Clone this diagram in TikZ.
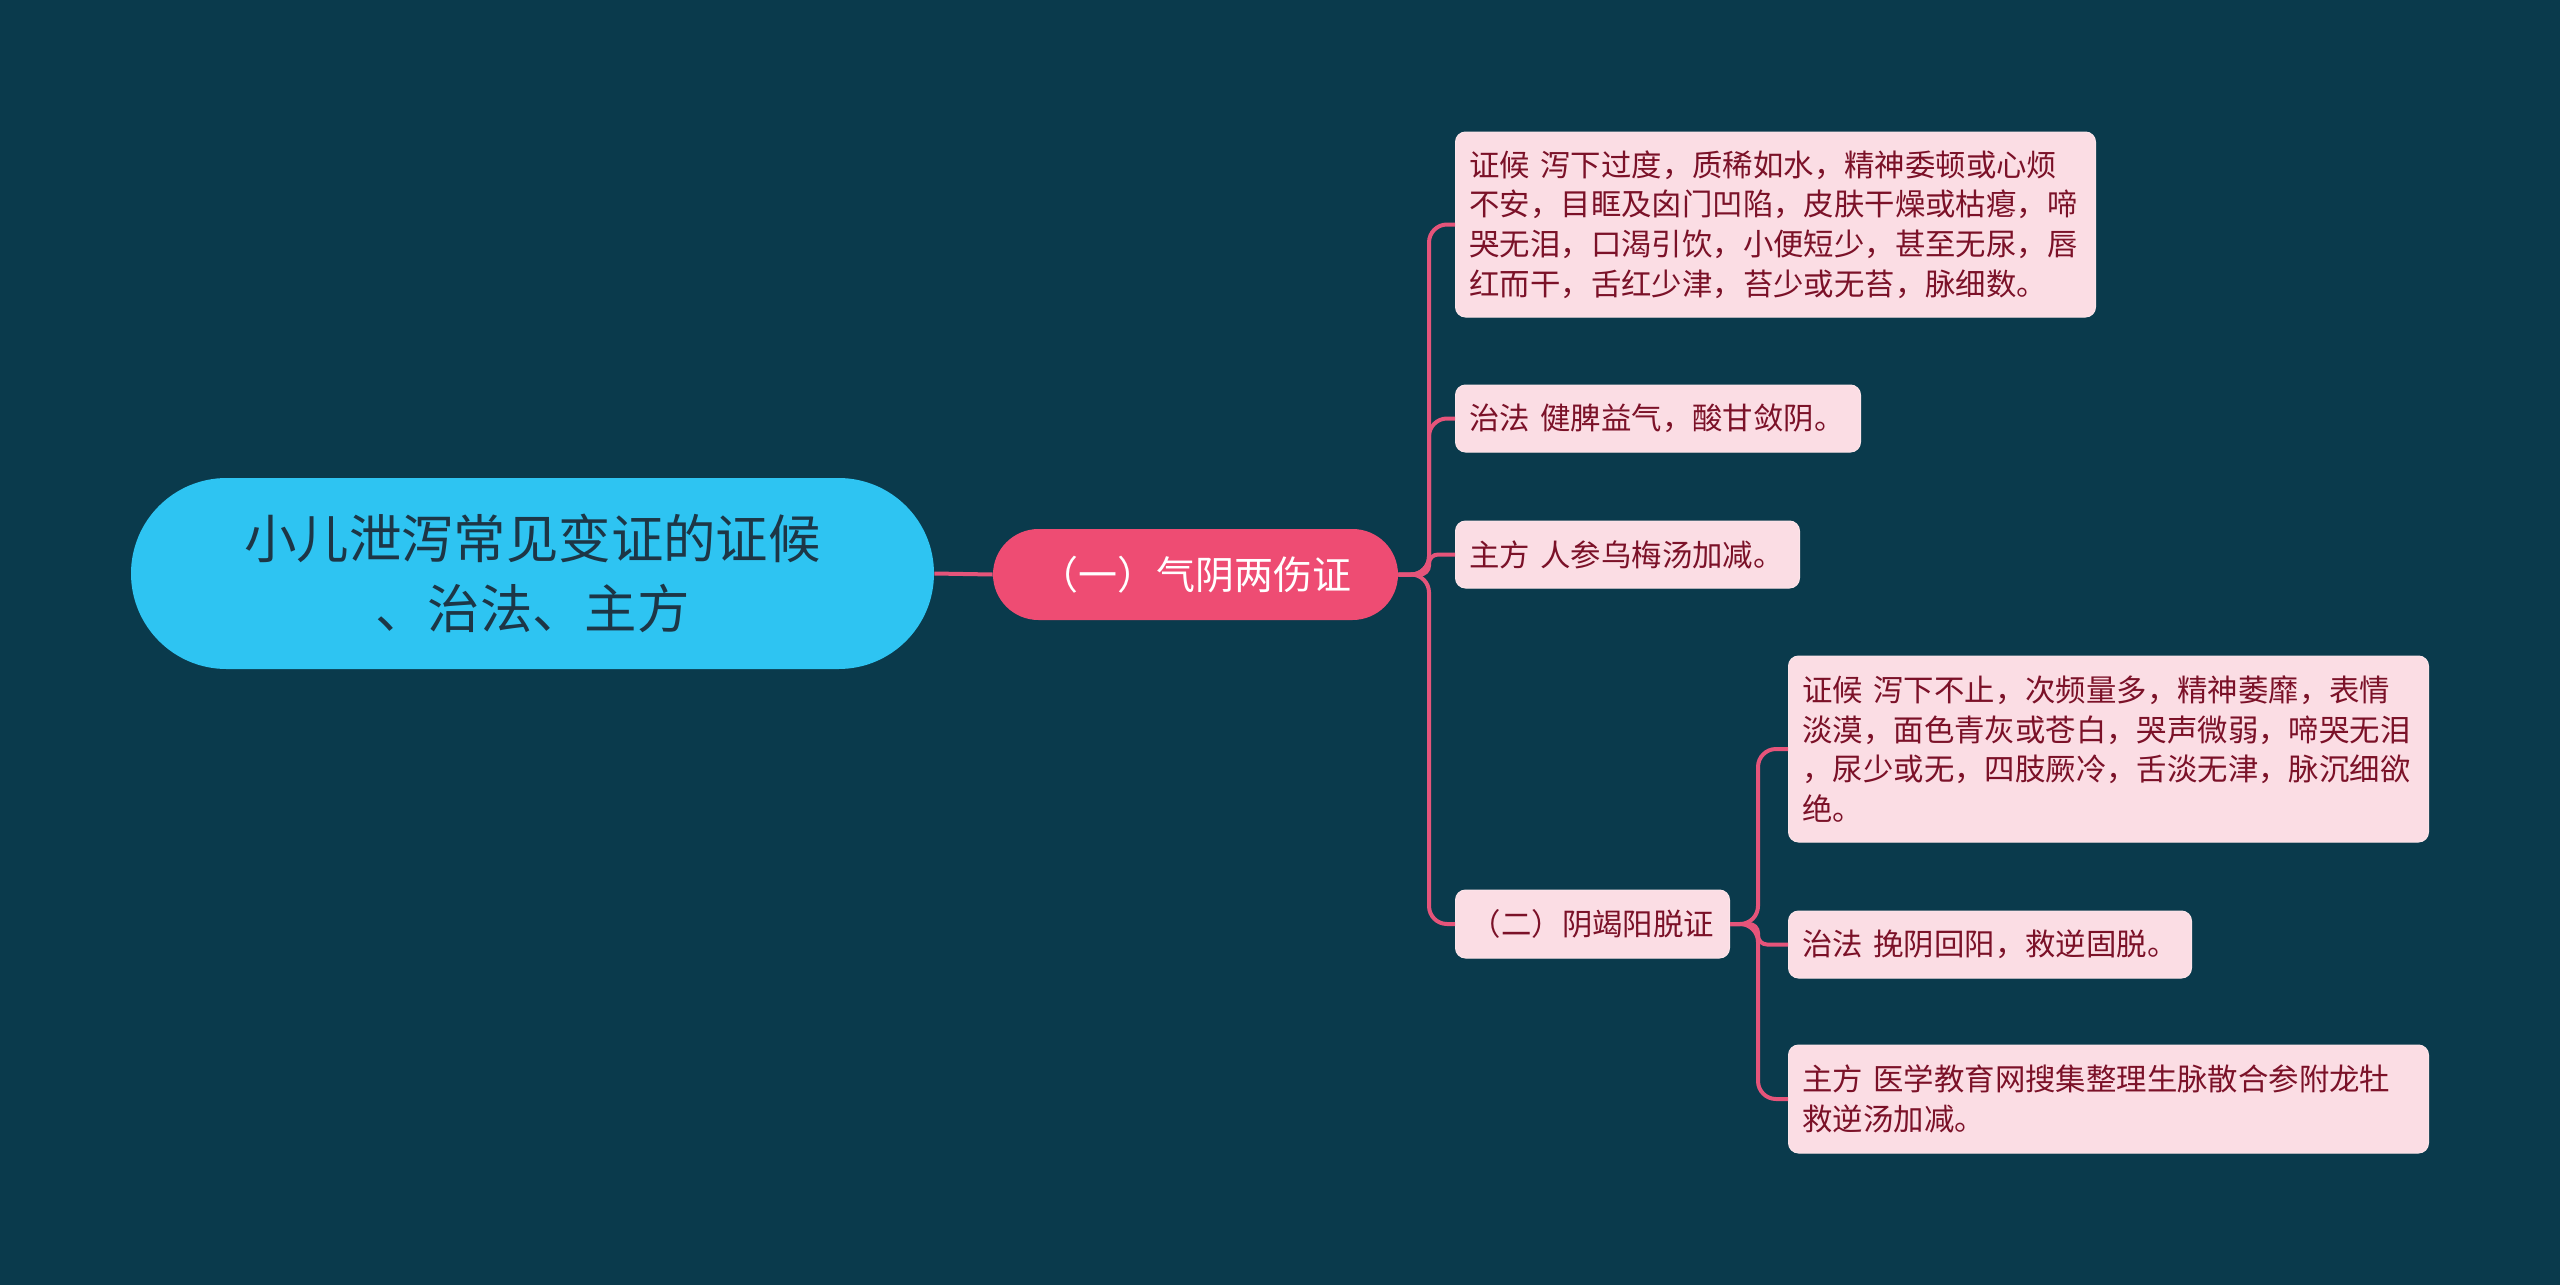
\documentclass[tikz,border=0pt]{standalone}
\usepackage{fontspec}
\setmainfont{Noto Sans CJK SC}
\definecolor{bg}{HTML}{0A3A4C}
\definecolor{rootblue}{HTML}{2EC4F2}
\definecolor{roottext}{HTML}{1D3646}
\definecolor{mainpink}{HTML}{EE4C73}
\definecolor{linepink}{HTML}{E5547A}
\definecolor{leafpink}{HTML}{FBDDE4}
\definecolor{leaftext}{HTML}{7B1128}
\tikzset{
  rootnode/.style={fill=rootblue, text=roottext, rounded corners=47.75pt, minimum width=401.5pt, minimum height=95.5pt, align=center, font=\fontsize{26.2}{35}\selectfont, inner sep=0pt},
  mainnode/.style={fill=mainpink, text=white, rounded corners=22.75pt, minimum width=202.5pt, minimum height=45.5pt, font=\fontsize{19.5}{24}\selectfont, inner sep=0pt},
  leafnode/.style={fill=leafpink, draw=leafpink!80!white, line width=0.5pt, text=leaftext, rounded corners=5pt, inner xsep=7pt, inner ysep=0pt, align=left, anchor=west, font=\fontsize{15.2}{19.85}\selectfont},
  conn/.style={draw=linepink, line width=2pt, rounded corners=9pt},
}
\begin{document}
\begin{tikzpicture}[x=0.5pt,y=-0.5pt]
\fill[bg] (0,0) rectangle (2560,1285);
\useasboundingbox (0,0) rectangle (2560,1285);

\node[rootnode] (root) at (532.5,573.5) {小儿泄泻常见变证的证候\\、治法、主方};
\node[mainnode] (m1) at (1195.5,574.5) {（一）气阴两伤证};

\node[leafnode, text width=306pt, minimum height=92.5pt] (a1) at (1455,224.5) {证候~泻下过度，质稀如水，精神委顿或心烦\\不安，目眶及囟门凹陷，皮肤干燥或枯瘪，啼\\哭无泪，口渴引饮，小便短少，甚至无尿，唇\\红而干，舌红少津，苔少或无苔，脉细数。};
\node[leafnode, text width=188.5pt, minimum height=33.5pt] (a2) at (1455,418.5) {治法~健脾益气，酸甘敛阴。};
\node[leafnode, text width=158pt, minimum height=33.5pt] (a3) at (1455,554.5) {主方~人参乌梅汤加减。};
\node[leafnode, text width=123pt, minimum height=34pt, align=center] (m2) at (1455,924) {（二）阴竭阳脱证};

\node[leafnode, text width=306pt, minimum height=93pt] (b1) at (1788,749) {证候~泻下不止，次频量多，精神萎靡，表情\\淡漠，面色青灰或苍白，哭声微弱，啼哭无泪\\，尿少或无，四肢厥冷，舌淡无津，脉沉细欲\\绝。};
\node[leafnode, text width=187.5pt, minimum height=33.5pt] (b2) at (1788,944.5) {治法~挽阴回阳，救逆固脱。};
\node[leafnode, text width=306pt, minimum height=54pt] (b3) at (1788,1099) {主方~医学教育网搜集整理生脉散合参附龙牡\\救逆汤加减。};

\coordinate (t1) at (1429,574.5);
\coordinate (t2) at (1758,924);

\draw[conn] (root.east) -- (m1.west);
\draw[conn] (m1.east) -- (t1) |- (a1.west);
\draw[conn] (m1.east) -- (t1) |- (a2.west);
\draw[conn, rounded corners=4.5pt] (m1.east) -- (t1) |- (a3.west);
\draw[conn] (m1.east) -- (t1) |- (m2.west);
\draw[conn] (m2.east) -- (t2) |- (b1.west);
\draw[conn, rounded corners=4.5pt] (m2.east) -- (t2) |- (b2.west);
\draw[conn] (m2.east) -- (t2) |- (b3.west);
\end{tikzpicture}
\end{document}
